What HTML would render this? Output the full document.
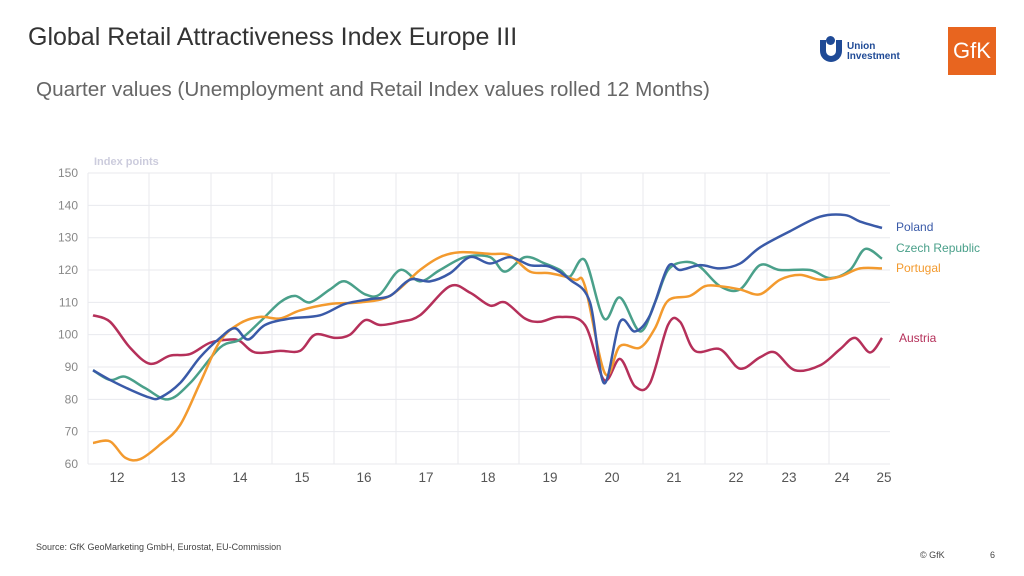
<!DOCTYPE html>
<html><head><meta charset="utf-8"><style>
body{margin:0;width:1024px;height:576px;background:#fff;font-family:"Liberation Sans",sans-serif;overflow:hidden;position:relative}
.t{position:absolute;white-space:nowrap}
</style></head><body>
<div class="t" style="left:28px;top:23px;font-size:25px;color:#333">Global Retail Attractiveness Index Europe III</div>
<div class="t" style="left:36px;top:78px;font-size:20.7px;color:#666">Quarter values (Unemployment and Retail Index values rolled 12 Months)</div>
<div class="t" style="left:820px;top:40px;width:22px;height:22px;border-radius:0 0 11px 11px;border:6px solid #1f4a96;border-top:none;box-sizing:border-box"></div>
<div class="t" style="left:826px;top:36px;width:9px;height:9px;border-radius:50%;background:#1f4a96"></div>
<div class="t" style="left:847px;top:42px;font-size:10px;line-height:10px;color:#1f4a96;font-weight:bold">Union<br>Investment</div>
<div class="t" style="left:948px;top:27px;width:48px;height:48px;background:#e8651f;color:#fff;font-size:22px;line-height:48px;text-align:center">GfK</div>
<div class="t" style="left:36px;top:542px;font-size:9px;color:#444">Source: GfK GeoMarketing GmbH, Eurostat, EU-Commission</div>
<div class="t" style="left:920px;top:550px;font-size:9px;color:#444">© GfK</div>
<div class="t" style="left:990px;top:550px;font-size:9px;color:#444">6</div>
<svg id="s" width="1024" height="576" style="position:absolute;left:0;top:0" font-family="Liberation Sans, sans-serif"></svg>
<script>
var Y=v=>464-(v-60)*3.233;
var h='<text x="94" y="165" font-size="11" fill="#ccd" font-weight="bold">Index points</text>';
for(var v=60;v<=150;v+=10){h+='<line x1="88" x2="890" y1="'+Y(v)+'" y2="'+Y(v)+'" stroke="#e8eaee"/><text x="78" y="'+(Y(v)+4)+'" font-size="12" fill="#888" text-anchor="end">'+v+'</text>';}
[149,211,272,334,396,458,519,581,643,705,767,829].forEach(x=>h+='<line x1="'+x+'" x2="'+x+'" y1="173" y2="464" stroke="#e8eaee"/>');
h+='<line x1="88" x2="88" y1="173" y2="464" stroke="#e8eaee"/>';
var lx={12:117,13:178,14:240,15:302,16:364,17:426,18:488,19:550,20:612,21:674,22:736,23:789,24:842,25:884};
for(var k in lx)h+='<text x="'+lx[k]+'" y="482" font-size="13.5" fill="#555" text-anchor="middle">'+k+'</text>';
function path(d,c){var p=[];for(var i=0;i<d.length;i+=2)p.push([d[i],Y(d[i+1])]);
var s='M'+p[0][0]+','+p[0][1];for(var i=0;i<p.length-1;i++){var a=p[Math.max(0,i-1)],b=p[i],e=p[i+1],f=p[Math.min(p.length-1,i+2)];
s+=' C'+(b[0]+(e[0]-a[0])/6)+','+(b[1]+(e[1]-a[1])/6)+' '+(e[0]-(f[0]-b[0])/6)+','+(e[1]-(f[1]-b[1])/6)+' '+e[0]+','+e[1];}
return '<path d="'+s+'" fill="none" stroke="'+c+'" stroke-width="2.5"/>';}
var cz=[93,89,110,86,125,87,145,83.5,168,80,190,85,220,96,240,98.5,260,104,280,110,295,112,310,110,330,114,345,116.5,365,112.5,380,112.5,400,120,420,116.5,440,120,465,124,490,124,505,119.5,525,124,545,122,560,120,570,118,585,123,604,105,620,111.5,640,101,655,110,668,120,685,122.5,700,121,720,115,740,114,760,121.5,780,120,810,120,830,117.5,850,120,865,126.5,882,123.5];
var at=[93,106,110,104,130,96,150,91,170,93.5,190,94,210,97.5,230,98.5,240,98,255,94.5,280,95,300,95,315,100,335,99,350,100,365,104.5,380,103,400,104,420,106,450,115,470,113,490,109,505,110,525,105,540,104,560,105.5,585,103,604,86,620,92.5,635,84,650,85,668,103,680,104,695,95,720,95.5,740,89.5,760,93,775,94.5,795,89,820,90.5,840,95.5,855,99,870,94.5,882,99];
var pt=[93,66.5,110,67,125,62,140,61.5,160,66,180,72,200,85,220,98,240,103.5,260,105.5,280,105,300,107.5,330,109.5,360,110,390,112,420,120,440,124,460,125.5,490,125,510,124.5,530,119.5,550,119,575,117,585,115,605,88,620,96.5,640,96,655,102,668,110.5,690,112,705,115,720,115,740,114,760,112.5,780,117,800,118.5,820,117,840,118,860,120.5,882,120.5];
var pl=[93,89,110,86,130,83,150,80.5,160,80.5,180,85,200,93,220,99,235,102,248,98.5,265,103,290,105,320,106,345,109.5,370,111,390,112,410,117,430,116.5,450,119,470,124,490,122,510,124,530,121.5,550,121,570,117,590,110,604,85,620,104,635,101,650,106,668,121,680,120,700,121.5,720,120.5,740,122,760,127,790,132,820,136.5,845,137,860,135,882,133];
h+=path(at,'#b5305a')+path(cz,'#4aa08a')+path(pt,'#f39a2e')+path(pl,'#3a5aa8');
h+='<text x="896" y="231" font-size="12" fill="#3a5aa8">Poland</text><text x="896" y="252" font-size="12" fill="#4aa08a">Czech Republic</text><text x="896" y="272" font-size="12" fill="#f39a2e">Portugal</text><text x="899" y="342" font-size="12" fill="#b5305a">Austria</text>';
document.getElementById('s').innerHTML=h;
</script>
</body></html>
